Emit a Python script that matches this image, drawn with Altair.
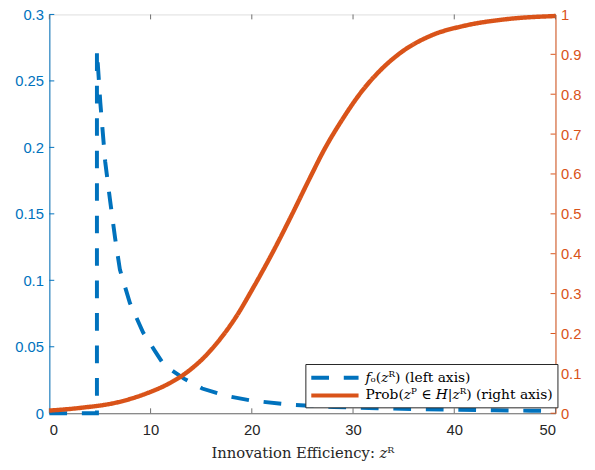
import altair as alt
import pandas as pd

# ---- data ----
series = ["𝑓ₒ(𝑧ᴿ) (left axis)", "Prob(𝑧ᴾ ∈ 𝐻|𝑧ᴿ) (right axis)"]

blue_x = [0, 4.7, 4.7, 5.03, 5.52, 6.0, 6.49, 6.97, 7.95, 9.24, 10.5, 11.35, 13.3,
          15.1, 17.5, 20.0, 23.7, 28.1, 32.4, 36.9, 40.5, 44.0, 47.6, 50.0]
blue_y = [0, 0, 0.273, 0.234, 0.189, 0.160, 0.132, 0.108, 0.083, 0.061, 0.046, 0.036,
          0.026, 0.0186, 0.013, 0.0095, 0.0065, 0.0047, 0.0037, 0.003, 0.0026, 0.0022,
          0.0019, 0.0017]

orange_x = [0, 3.24, 6.49, 9.73, 11.7, 13.6, 15.2, 16.9, 18.5, 20.1, 22.2, 24.0, 25.6,
            27.2, 28.9, 30.8, 32.7, 34.7, 37.9, 40.9, 45.1, 50]
orange_p = [0.0066, 0.014, 0.026, 0.051, 0.073, 0.103, 0.138, 0.187, 0.244, 0.313,
            0.41, 0.50, 0.583, 0.663, 0.735, 0.805, 0.86, 0.904, 0.949, 0.971, 0.988, 0.996]

x_ticks = [0, 10, 20, 30, 40, 50]
left_ticks = [0, 0.05, 0.1, 0.15, 0.2, 0.25, 0.3]
right_ticks = [0, 0.1, 0.2, 0.3, 0.4, 0.5, 0.6, 0.7, 0.8, 0.9, 1]

# ---- styling ----
W, H = 514, 405
BLUE = "#0072BD"
ORANGE = "#D95319"
DARK = "#262626"
GRAY = "#6e6e6e"
SANS = "Liberation Sans"
SERIF = "DejaVu Serif"

blue_df = pd.DataFrame({"z": blue_x, "v": blue_y, "series": series[0],
                        "i": list(range(len(blue_x)))})
orange_df = pd.DataFrame({"z": orange_x, "v": orange_p, "series": series[1],
                          "i": list(range(len(orange_x)))})

xscale = alt.Scale(domain=[0, 50], nice=False, zero=False)
lscale = alt.Scale(domain=[0, 0.3], nice=False)
rscale = alt.Scale(domain=[0, 1], nice=False)

legend = alt.Legend(
    title=None, orient="none", legendX=260, legendY=355, direction="vertical",
    fillColor="white", strokeColor=DARK, padding=4, rowPadding=0,
    labelFont=SERIF, labelFontSize=14, labelColor="black", labelLimit=400,
    symbolType="M-3,0H3", symbolSize=256, symbolStrokeWidth=4,
    symbolOffset=16, labelOffset=21,
)
color = alt.Color("series:N", scale=alt.Scale(domain=series, range=[BLUE, ORANGE]),
                  legend=legend)
dash = alt.StrokeDash("series:N",
                      scale=alt.Scale(domain=series, range=[[18, 15], [1, 0]]),
                      legend=legend)

x_axis = alt.Axis(values=x_ticks, title="Innovation Efficiency:  𝑧ᴿ", grid=False,
                  tickSize=0, labelPadding=10, labelFont=SANS, labelFontSize=15,
                  labelColor=DARK, domainColor=GRAY, titleFont=SERIF,
                  titleFontSize=15, titleFontWeight="normal", titleColor=DARK,
                  titlePadding=8)
left_axis = alt.Axis(orient="left", values=left_ticks, format="~g", title=None,
                     grid=False, tickSize=0, labelPadding=6, labelFont=SANS,
                     labelFontSize=15, labelColor=BLUE, domainColor=BLUE)
right_axis = alt.Axis(orient="right", values=right_ticks, format="~g", title=None,
                      grid=False, tickSize=0, labelPadding=5, labelFont=SANS,
                      labelFontSize=15, labelColor=ORANGE, domainColor=ORANGE)

blue_line = alt.Chart(blue_df).mark_line(strokeWidth=4).encode(
    x=alt.X("z:Q", scale=xscale, axis=x_axis),
    y=alt.Y("v:Q", scale=lscale, axis=left_axis),
    color=color, strokeDash=dash, order=alt.Order("i:Q"),
)

left_tick_marks = alt.Chart(pd.DataFrame({"v": left_ticks})).mark_rule(
    color=BLUE, strokeWidth=1).encode(
    y=alt.Y("v:Q", scale=lscale, axis=left_axis), x=alt.value(0), x2=alt.value(5))

bottom_ticks = alt.Chart(pd.DataFrame({"z": x_ticks})).mark_rule(
    color=GRAY, strokeWidth=1).encode(
    x=alt.X("z:Q", scale=xscale, axis=x_axis), y=alt.value(H), y2=alt.value(H - 5))
top_ticks = alt.Chart(pd.DataFrame({"z": x_ticks})).mark_rule(
    color=GRAY, strokeWidth=1).encode(
    x=alt.X("z:Q", scale=xscale, axis=x_axis), y=alt.value(0), y2=alt.value(5))

orange_line = alt.Chart(orange_df).mark_line(strokeWidth=4.5, interpolate="monotone").encode(
    x=alt.X("z:Q", scale=xscale, axis=x_axis),
    y=alt.Y("v:Q", scale=rscale, axis=right_axis),
    color=color, strokeDash=dash, order=alt.Order("i:Q"),
)

right_tick_marks = alt.Chart(pd.DataFrame({"v": right_ticks})).mark_rule(
    color=ORANGE, strokeWidth=1).encode(
    y=alt.Y("v:Q", scale=rscale, axis=right_axis), x=alt.value(W), x2=alt.value(W - 5))

left_group = alt.layer(blue_line, bottom_ticks, top_ticks, left_tick_marks)
right_group = alt.layer(orange_line, right_tick_marks)

chart = alt.layer(left_group, right_group).resolve_scale(
    y="independent"
).properties(
    width=W, height=H, autosize=alt.AutoSizeParams(type="none"),
    padding={"left": 42, "top": 3, "right": 32, "bottom": 48},
).configure_view(stroke=GRAY, strokeWidth=1).configure(background="white")

chart.save("out.html", embed_options={"renderer": "svg", "actions": False})
